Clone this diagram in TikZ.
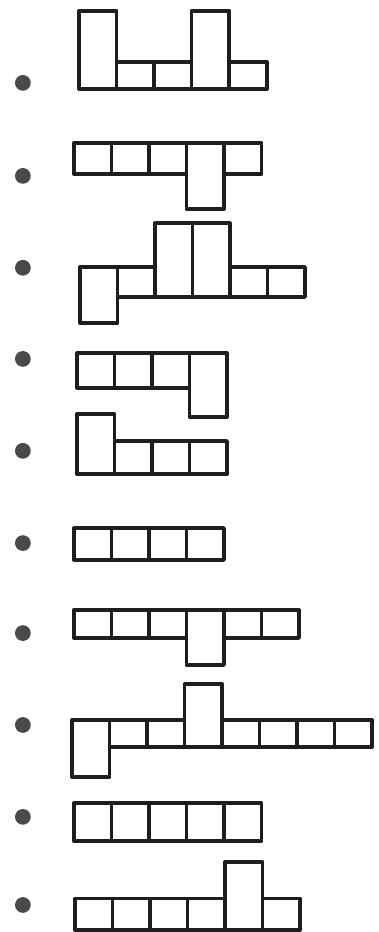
\documentclass[tikz,border=0pt]{standalone}
\definecolor{ink}{HTML}{1E1E1E}
\definecolor{dot}{HTML}{4A4A4A}
\tikzset{
  cell/.style={draw=ink, line width=2.8pt, line join=round, line cap=round},
  bullet/.style={fill=dot}
}

\begin{document}
\begin{tikzpicture}
  % Frame of the page
  \useasboundingbox (0, 0) rectangle (10.08, 24.85);

  % One row per composition.
  % cells as lo/hi above the baseline / x of first cell / baseline y / bullet y
  % (lo = 0: cell sits on the baseline, lo < 0: tall cell hanging down)
  \foreach \cells/\x/\y/\b in {
    {0/2.08, 0/.72, 0/.72, 0/2.08, 0/.72}/2.11/22.48/22.64,
    {0/.83, 0/.83, 0/.83, -.93/.83, 0/.83}/1.97/20.21/20.16,
    {-.69/.8, 0/.8, 0/1.97, 0/1.97, 0/.8, 0/.8}/2.13/16.93/17.71,
    {0/.93, 0/.93, 0/.93, -.77/.93}/2.05/14.51/15.28,
    {0/1.6, 0/.88, 0/.88, 0/.88}/2.05/12.21/12.83,
    {0/.85, 0/.85, 0/.85, 0/.85}/1.97/9.92/10.37,
    {0/.75, 0/.75, 0/.75, -.72/.75, 0/.75, 0/.75}/1.97/7.84/7.97,
    {-.8/.72, 0/.72, 0/.72, 0/1.68, 0/.72, 0/.72, 0/.72, 0/.72}/1.92/4.93/5.52,
    {0/1.01, 0/1.01, 0/1.01, 0/1.01, 0/1.01}/1.97/2.43/3.07,
    {0/.83, 0/.83, 0/.83, 0/.83, 0/1.81, 0/.83}/2.00/0.06/0.72%
  } {
    \fill[bullet] (0.61, \b) circle (0.21);
    \foreach \lo/\hi [count=\i from 0] in \cells {
      \draw[cell] (\x+\i, \y+\lo) rectangle (\x+\i+1, \y+\hi);
    }
  }
\end{tikzpicture}
\end{document}
